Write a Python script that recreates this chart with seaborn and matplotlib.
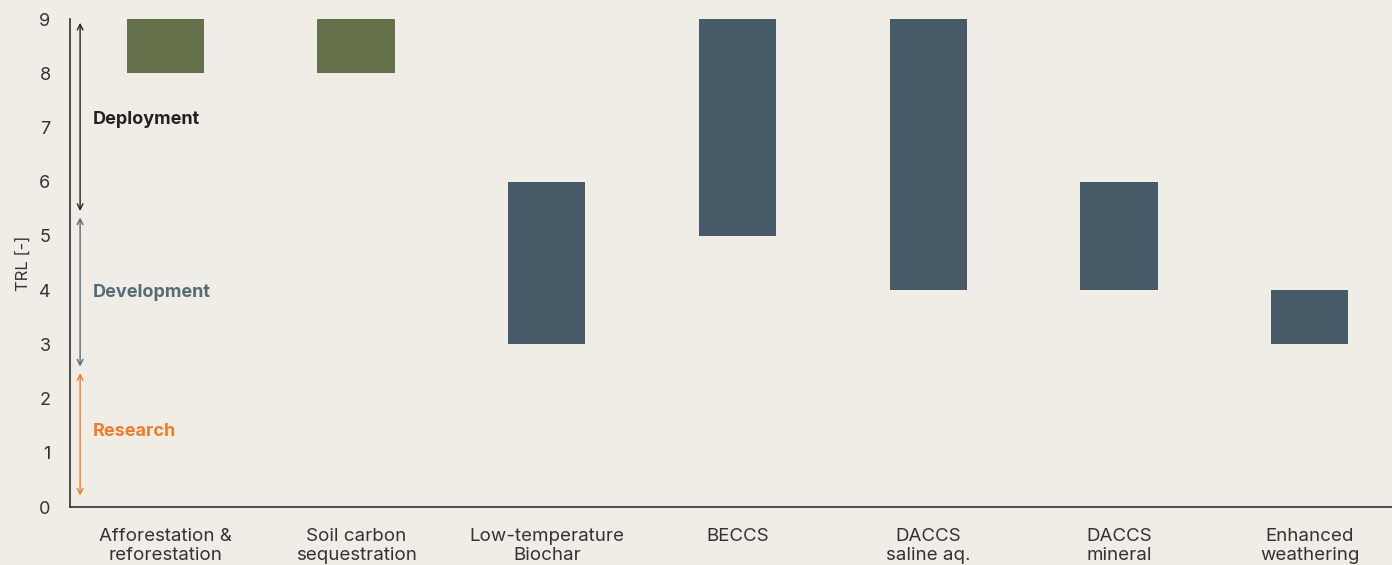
import numpy as np
import pandas as pd
import matplotlib
matplotlib.use('Agg')
import matplotlib.pyplot as plt
import seaborn as sns

# ── DATA ──────────────────────────────────────────────────────────────────────
methods = ['Afforestation &\nreforestation', 'Soil carbon\nsequestration',
           'Low-temperature\nBiochar', 'BECCS', 'DACCS\nsaline aq.',
           'DACCS\nmineral', 'Enhanced\nweathering']
trl_low = [8, 8, 3, 5, 4, 4, 3]
trl_high = [9, 9, 6, 9, 9, 6, 4]
bar_colors = ['#637049', '#637049', '#465a68', '#465a68', '#465a68', '#465a68', '#465a68']

phase_names = ['Deployment', 'Development', 'Research']
phase_from = [8.93, 5.34, 2.47]
phase_to = [5.46, 2.59, 0.21]
phase_label_y = [7.14, 3.95, 1.4]
phase_colors = ['#222222', '#566b78', '#f07d2b']

BG = '#f0ece6'

# ── STYLE ─────────────────────────────────────────────────────────────────────
sns.set_theme(style='white')
plt.rcParams['font.family'] = ['Inter', 'DejaVu Sans']
plt.rcParams['axes.facecolor'] = BG
plt.rcParams['figure.facecolor'] = BG

df = pd.DataFrame({'method': methods, 'low': trl_low, 'high': trl_high})
df['span'] = df['high'] - df['low']

# axes run a little past the right edge (the reference is cropped there)
fig = plt.figure(figsize=(13.92, 5.65), dpi=100)
ax = fig.add_axes([70 / 1392, 58 / 565, 1335 / 1392, 488 / 565])

sns.barplot(data=df, x='method', y='span', bottom=df['low'].values,
            width=0.405, color=bar_colors[2], ax=ax, linewidth=0)
for patch, col in zip(ax.patches, bar_colors):
    patch.set_facecolor(col)

# phase arrows
xa = -0.447
for name, y0, y1, col, ly in zip(phase_names, phase_from, phase_to,
                                 phase_colors, phase_label_y):
    ax.annotate('', xy=(xa, y1), xytext=(xa, y0),
                arrowprops=dict(arrowstyle='<->', color=col, lw=1.0,
                                mutation_scale=10, shrinkA=0, shrinkB=0))
    ax.text(-0.38, ly, name, color=col, fontsize=13, fontweight='bold',
            ha='left', va='center')

ax.set_xlim(-0.5, 6.5)
ax.set_ylim(0, 9)
ax.set_yticks(range(0, 10))
ax.set_xlabel('')
ax.set_ylabel('TRL [-]', fontsize=12, color='#333333', labelpad=6)
ax.tick_params(axis='both', length=0, colors='#333333')
ax.tick_params(axis='x', pad=15, labelsize=13.5)
ax.tick_params(axis='y', pad=14, labelsize=13)
sns.despine(ax=ax)
for s in ['left', 'bottom']:
    ax.spines[s].set_color('#333333')
    ax.spines[s].set_linewidth(1.2)

plt.savefig('out.png', dpi=100, facecolor=BG)
